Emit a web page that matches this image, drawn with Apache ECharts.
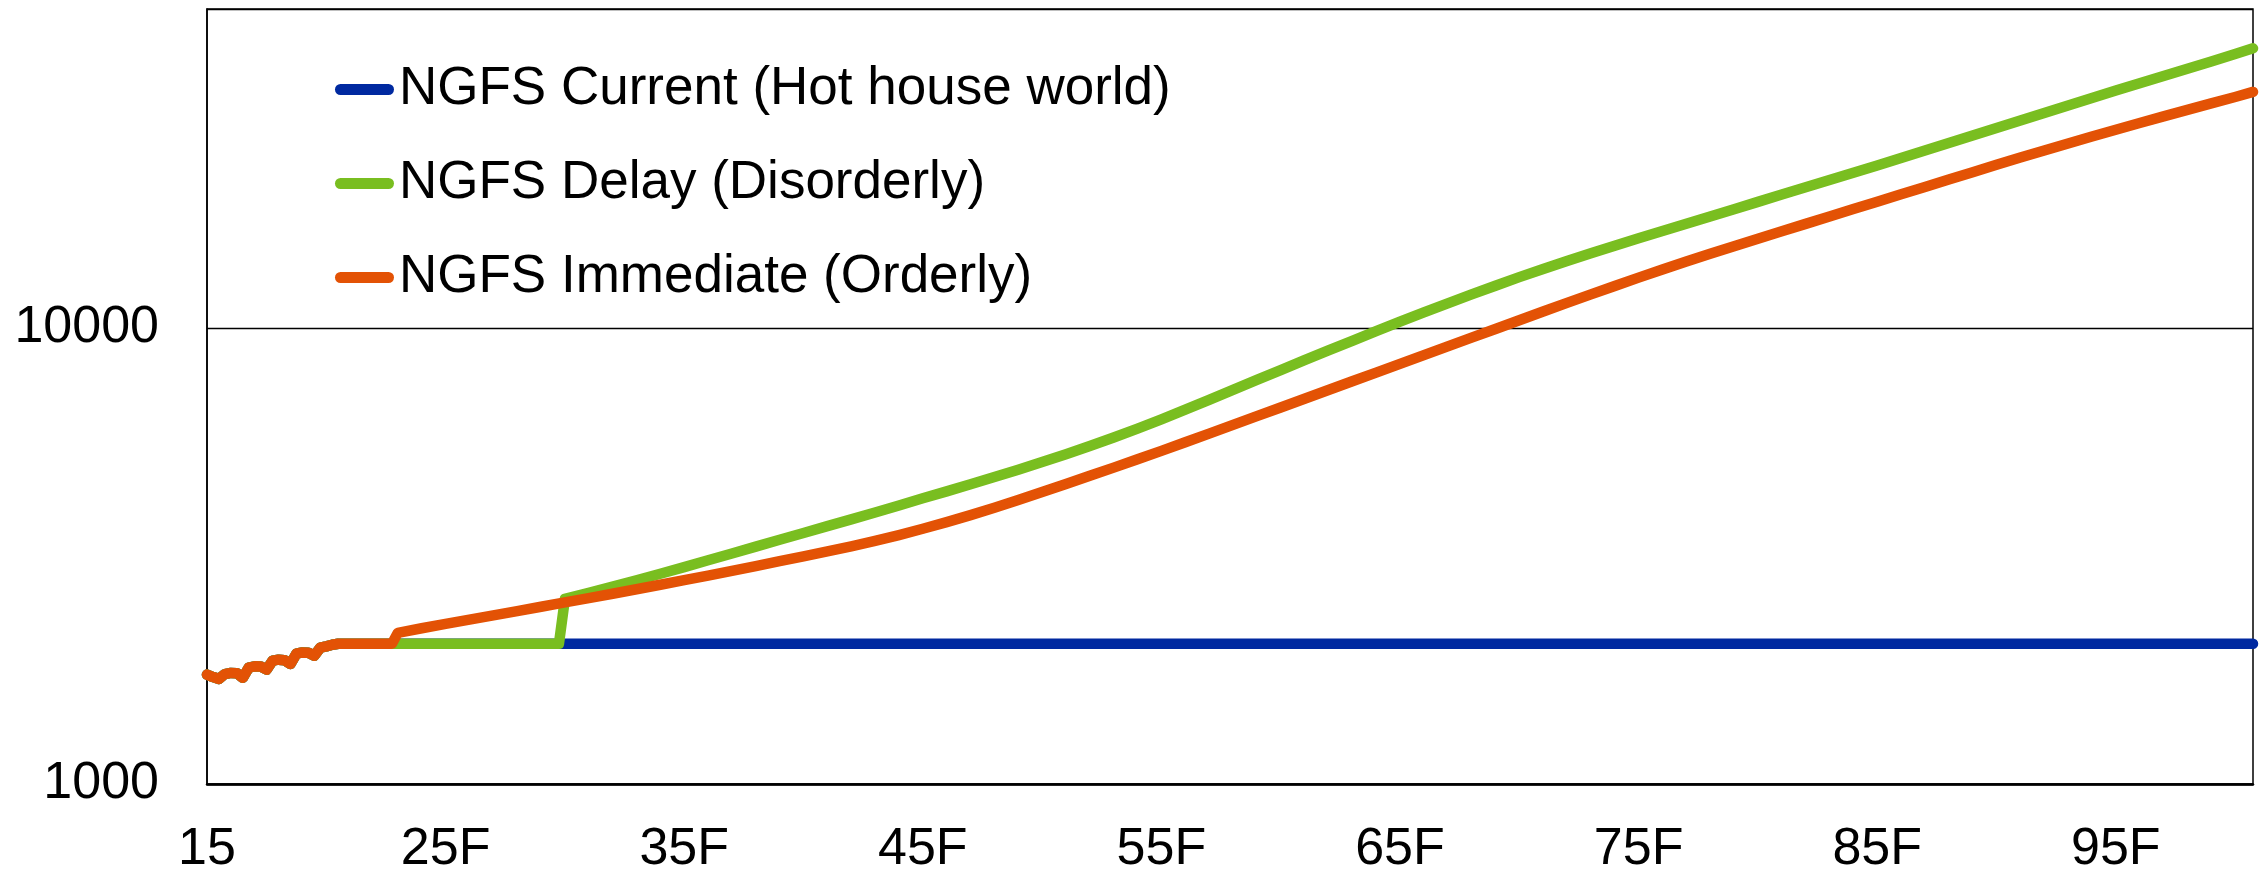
<!DOCTYPE html>
<html>
<head>
<meta charset="utf-8">
<script src="https://cdn.jsdelivr.net/npm/echarts@6/dist/echarts.min.js"></script>
<style>
  html, body { margin: 0; padding: 0; background: #ffffff; }
  #chart { width: 2262px; height: 876px; }
</style>
</head>
<body>
<div id="chart"></div>
<script>
// Shared history, quarterly 2015Q1 - 2022Q4
const histPeriods = [
  '2015Q1','2015Q2','2015Q3','2015Q4','2016Q1','2016Q2','2016Q3','2016Q4',
  '2017Q1','2017Q2','2017Q3','2017Q4','2018Q1','2018Q2','2018Q3','2018Q4',
  '2019Q1','2019Q2','2019Q3','2019Q4','2020Q1','2020Q2','2020Q3','2020Q4',
  '2021Q1','2021Q2','2021Q3','2021Q4','2022Q1','2022Q2','2022Q3','2022Q4'
];
const histValues = [
  1737, 1716, 1700, 1742, 1752, 1750, 1709, 1800,
  1811, 1809, 1782, 1864, 1873, 1868, 1833, 1931,
  1943, 1940, 1911, 1990, 2003, 2020, 2030, 2030,
  2030, 2030, 2030, 2030, 2030, 2030, 2030, 2030
];

// Annual path labels (first quarter of each year)
function annualPeriods(from, to) {
  const out = [];
  for (let y = from; y <= to; y++) out.push(y + 'Q1');
  return out;
}

// NGFS Current (Hot house world): stays flat
const currentPeriods = ['2100Q4'];
const currentValues = [2030];

// NGFS Delay (Disorderly): flat until 2029, then rises from 2030
const delayPeriods = ['2029Q4', ...annualPeriods(2030, 2100), '2100Q4'];
const delayValues = [
  2030,
  2545, 2624, 2708, 2797, 2891, 2989, 3094, 3202, 3314, 3430,
  3550, 3675, 3803, 3938, 4080, 4229, 4381, 4541, 4709, 4888,
  5081, 5284, 5506, 5748, 6013, 6301, 6616, 6954, 7312, 7689,
  8081, 8493, 8922, 9368, 9831, 10313, 10808, 11316, 11837, 12369,
  12914, 13456, 14008, 14568, 15136, 15711, 16300, 16912, 17546, 18204,
  18886, 19595, 20329, 21092, 21883, 22703, 23577, 24485, 25428, 26407,
  27423, 28479, 29576, 30714, 31897, 33125, 34367, 35656, 36993, 38380,
  39820,
  41000
];

// NGFS Immediate (Orderly): rises from 2023
const immediatePeriods = [...annualPeriods(2023, 2100), '2100Q4'];
const immediateValues = [
  2145, 2195, 2244, 2293, 2343, 2394, 2447,
  2501, 2556, 2613, 2673, 2734, 2798, 2864, 2932, 3004, 3079,
  3156, 3235, 3319, 3412, 3514, 3627, 3750, 3885, 4033, 4194,
  4366, 4547, 4738, 4939, 5151, 5375, 5612, 5862, 6126, 6402,
  6690, 6991, 7306, 7635, 7979, 8338, 8713, 9105, 9515, 9943,
  10390, 10858, 11341, 11840, 12355, 12886, 13427, 13978, 14537, 15104,
  15686, 16282, 16901, 17543, 18210, 18902, 19620, 20366, 21140, 21943,
  22777, 23620, 24482, 25363, 26263, 27182, 28120, 29076, 30050, 31042,
  32066,
  32900
];

const xTickLabels = ['15', '25F', '35F', '45F', '55F', '65F', '75F', '85F', '95F'];
const yTickLabels = ['1000', '10000'];

const seriesNames = [
  'NGFS Current (Hot house world)',
  'NGFS Delay (Disorderly)',
  'NGFS Immediate (Orderly)'
];
const seriesColors = ['#0029A0', '#79BE20', '#E35205'];

// 'YYYYQn' -> years elapsed since 2015Q1
function periodToX(p) {
  const y = parseInt(p.slice(0, 4), 10);
  const q = parseInt(p.slice(5), 10);
  return (y - 2015) + (q - 1) / 4;
}
function pairs(periods, values) {
  return periods.map((p, i) => [periodToX(p), values[i]]);
}

const seriesData = [
  pairs([...histPeriods, ...currentPeriods], [...histValues, ...currentValues]),
  pairs([...histPeriods, ...delayPeriods], [...histValues, ...delayValues]),
  pairs([...histPeriods, ...immediatePeriods], [...histValues, ...immediateValues])
];

const FONT = '"Liberation Sans", Arial, Helvetica, sans-serif';

const chart = echarts.init(document.getElementById('chart'), null, { renderer: 'canvas' });
chart.setOption({
  animation: false,
  backgroundColor: '#ffffff',
  grid: {
    left: 207, right: 9, top: 9, bottom: 87,
    show: true, borderColor: '#000000', borderWidth: 1.5, backgroundColor: 'transparent'
  },
  legend: {
    orient: 'vertical',
    left: 330, top: 58,
    itemWidth: 59, itemHeight: 11, itemGap: 41,
    selectedMode: false,
    icon: 'path://M5.5,0 L53.5,0 A5.5,5.5 0 0 1 53.5,11 L5.5,11 A5.5,5.5 0 0 1 5.5,0 Z',
    textStyle: { fontSize: 53, color: '#000000', fontFamily: FONT },
    data: seriesNames
  },
  xAxis: {
    type: 'value',
    min: 0, max: 85.75, interval: 10,
    axisLine: { show: true, lineStyle: { color: '#000000', width: 2.5 } },
    axisTick: { show: false },
    splitLine: { show: false },
    axisLabel: {
      margin: 40,
      fontSize: 52, color: '#000000', fontFamily: FONT,
      showMaxLabel: false,
      formatter: function (v) {
        const i = Math.round(v / 10);
        if (Math.abs(v - i * 10) > 1e-6) return '';
        return xTickLabels[i] || '';
      }
    }
  },
  yAxis: {
    type: 'log', logBase: 10,
    min: 1000, max: 50000,
    axisLine: { show: true, lineStyle: { color: '#000000', width: 1.5 } },
    axisTick: { show: false },
    splitLine: { show: true, lineStyle: { color: '#000000', width: 1.3 } },
    axisLabel: {
      margin: 48,
      fontSize: 52, color: '#000000', fontFamily: FONT,
      formatter: function (v) {
        const s = String(Math.round(v));
        return yTickLabels.indexOf(s) >= 0 ? s : '';
      }
    }
  },
  series: seriesNames.map((name, i) => ({
    name: name,
    type: 'line',
    data: seriesData[i],
    symbol: 'none',
    showSymbol: false,
    z: 2 + i,
    itemStyle: { color: seriesColors[i] },
    lineStyle: { color: seriesColors[i], width: 10.5, cap: 'round', join: 'round' },
    emphasis: { disabled: true }
  }))
});
</script>
</body>
</html>
